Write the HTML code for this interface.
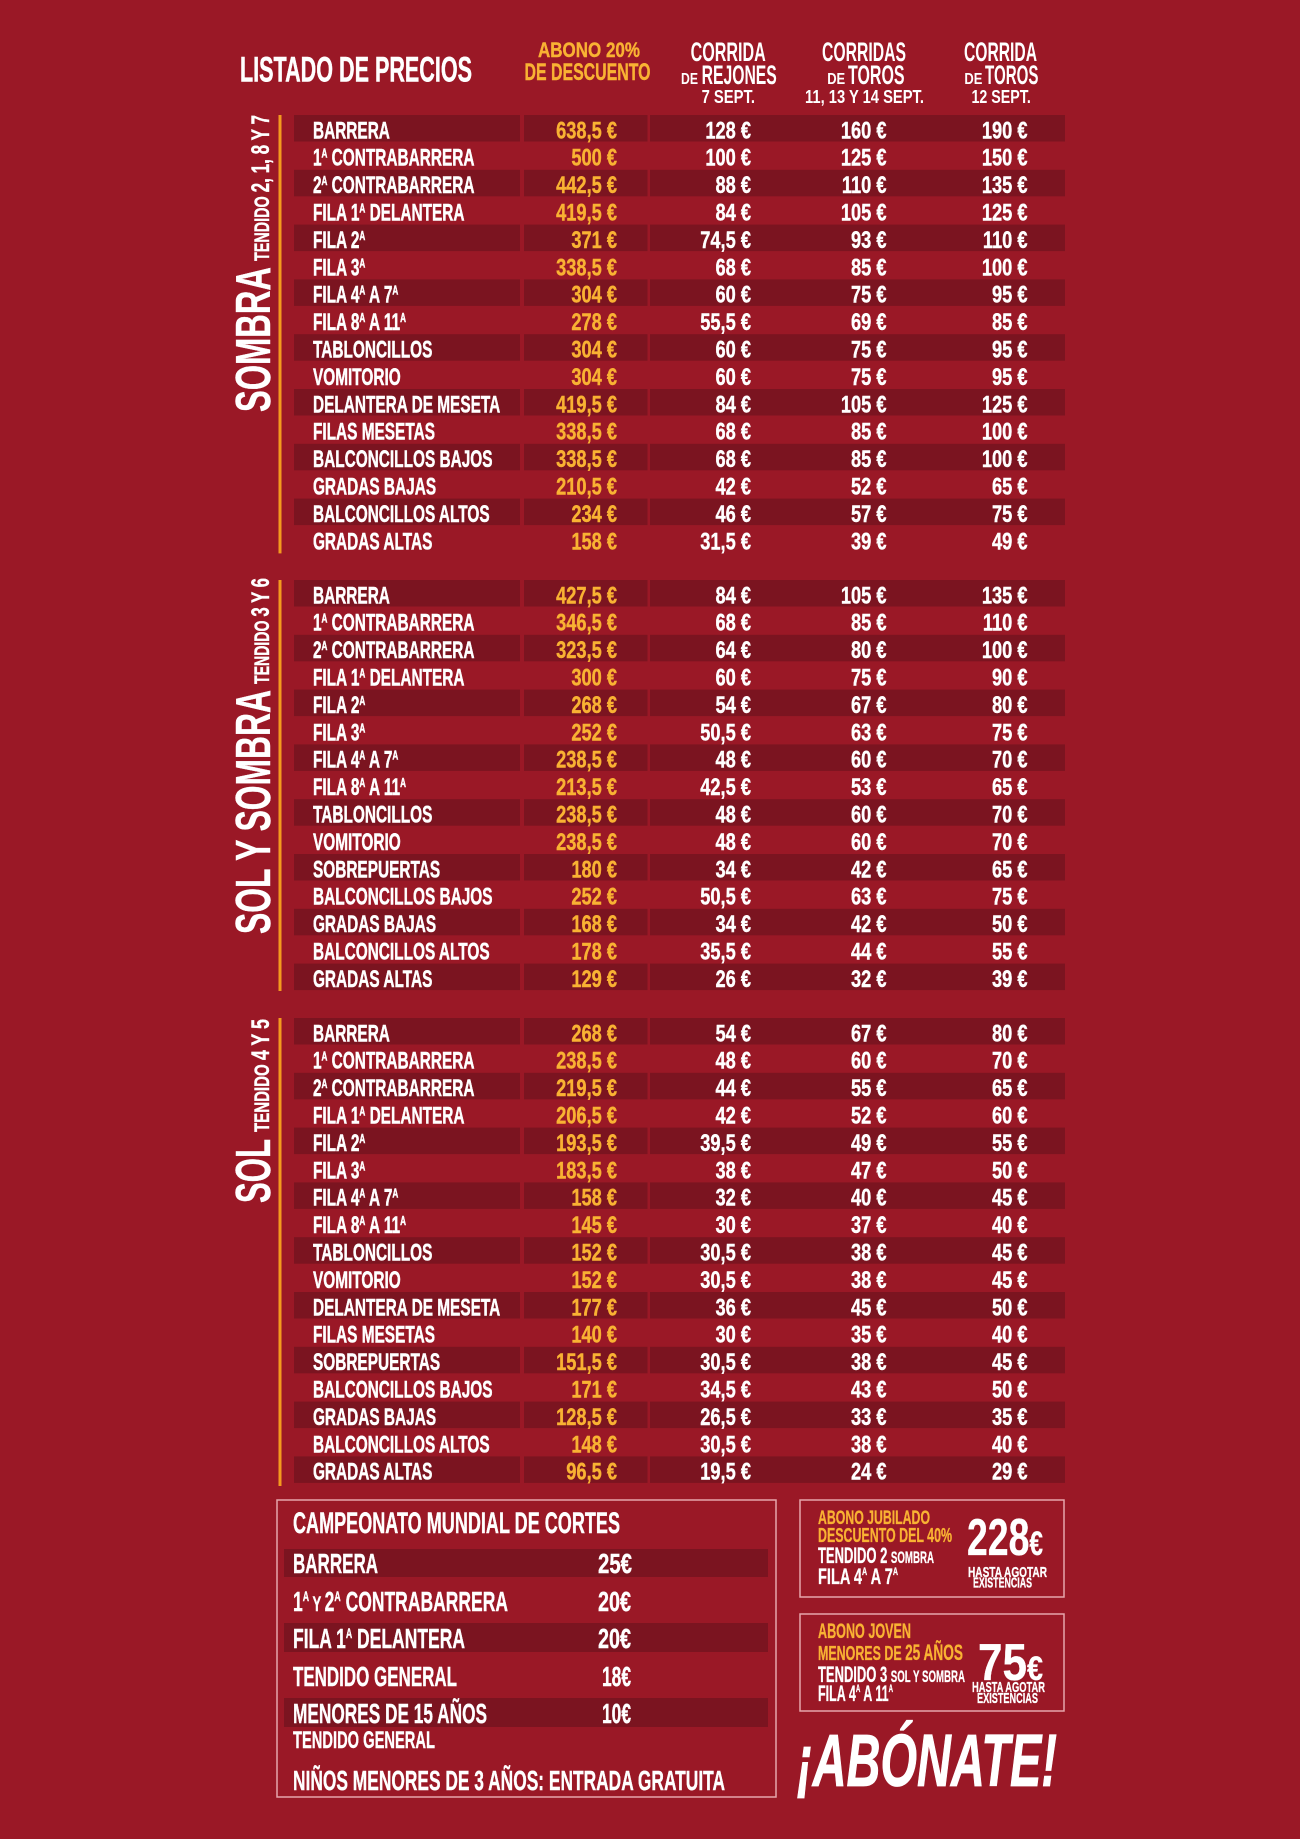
<!DOCTYPE html>
<html><head><meta charset="utf-8">
<style>
html,body{margin:0;padding:0;background:#9a1826;}
svg{display:block;}
text{font-family:"Liberation Sans",Arial,sans-serif;font-weight:bold;}
.s{font-size:12.5px;}
</style></head><body>
<svg xmlns="http://www.w3.org/2000/svg" width="1300" height="1839" viewBox="0 0 1300 1839">
<rect width="1300" height="1839" fill="#9a1826"/>

<!-- HEADER -->
<g fill="#fff">
<text x="240" y="81.7" font-size="35" textLength="232" lengthAdjust="spacingAndGlyphs" stroke="#fff" stroke-width="0.5">LISTADO DE PRECIOS</text>
<text x="538" y="57" font-size="21" textLength="102" lengthAdjust="spacingAndGlyphs" fill="#f9b233" stroke="#f9b233" stroke-width="0.4">ABONO 20%</text>
<text x="524.5" y="80" font-size="23.7" textLength="126" lengthAdjust="spacingAndGlyphs" fill="#f9b233" stroke="#f9b233" stroke-width="0.4">DE DESCUENTO</text>
<text x="690.6" y="61" font-size="26.5" textLength="75.2" lengthAdjust="spacingAndGlyphs">CORRIDA</text>
<text x="681" y="84" font-size="16" textLength="17" lengthAdjust="spacingAndGlyphs">DE</text>
<text x="701.6" y="84" font-size="26.5" textLength="75.2" lengthAdjust="spacingAndGlyphs">REJONES</text>
<text x="701.6" y="103" font-size="18" textLength="53.4" lengthAdjust="spacingAndGlyphs">7 SEPT.</text>
<text x="822" y="61" font-size="26.5" textLength="84" lengthAdjust="spacingAndGlyphs">CORRIDAS</text>
<text x="827.2" y="84" font-size="16" textLength="18" lengthAdjust="spacingAndGlyphs">DE</text>
<text x="848" y="84" font-size="26.5" textLength="56.6" lengthAdjust="spacingAndGlyphs">TOROS</text>
<text x="805" y="103" font-size="18" textLength="119" lengthAdjust="spacingAndGlyphs">11, 13 Y 14 SEPT.</text>
<text x="964" y="61" font-size="26.5" textLength="73" lengthAdjust="spacingAndGlyphs">CORRIDA</text>
<text x="964.4" y="84" font-size="16" textLength="18" lengthAdjust="spacingAndGlyphs">DE</text>
<text x="985" y="84" font-size="26.5" textLength="53.4" lengthAdjust="spacingAndGlyphs">TOROS</text>
<text x="971.5" y="103" font-size="18" textLength="59.3" lengthAdjust="spacingAndGlyphs">12 SEPT.</text>
</g>

<!-- DARK ROW BARS -->
<g fill="#7b1420">
<rect x="294" y="115" width="771" height="26.5"/>
<rect x="294" y="169.8" width="771" height="26.5"/>
<rect x="294" y="224.6" width="771" height="26.5"/>
<rect x="294" y="279.4" width="771" height="26.5"/>
<rect x="294" y="334.2" width="771" height="26.5"/>
<rect x="294" y="389" width="771" height="26.5"/>
<rect x="294" y="443.8" width="771" height="26.5"/>
<rect x="294" y="498.6" width="771" height="26.5"/>

<rect x="294" y="580" width="771" height="26.5"/>
<rect x="294" y="634.8" width="771" height="26.5"/>
<rect x="294" y="689.6" width="771" height="26.5"/>
<rect x="294" y="744.4" width="771" height="26.5"/>
<rect x="294" y="799.2" width="771" height="26.5"/>
<rect x="294" y="854" width="771" height="26.5"/>
<rect x="294" y="908.8" width="771" height="26.5"/>
<rect x="294" y="963.6" width="771" height="26.5"/>

<rect x="294" y="1018" width="771" height="26.5"/>
<rect x="294" y="1072.8" width="771" height="26.5"/>
<rect x="294" y="1127.6" width="771" height="26.5"/>
<rect x="294" y="1182.4" width="771" height="26.5"/>
<rect x="294" y="1237.2" width="771" height="26.5"/>
<rect x="294" y="1292" width="771" height="26.5"/>
<rect x="294" y="1346.8" width="771" height="26.5"/>
<rect x="294" y="1401.6" width="771" height="26.5"/>
<rect x="294" y="1456.4" width="771" height="26.5"/>
</g>
<g fill="#9a1826">
<rect x="520" y="110" width="4" height="1380"/>
<rect x="647.5" y="110" width="2.5" height="1380"/>
</g>

<!-- ORANGE SIDE LINES -->
<g fill="#f39a1e">
<rect x="278.5" y="115" width="3" height="438.4"/>
<rect x="278.5" y="580" width="3" height="411"/>
<rect x="278.5" y="1018" width="3" height="468"/>
</g>

<!-- VERTICAL SECTION LABELS -->
<g fill="#fff" stroke="#fff" stroke-width="0.4">
<text transform="translate(270 412) rotate(-90)" font-size="48.9" textLength="145" lengthAdjust="spacingAndGlyphs">SOMBRA</text>
<text transform="translate(269 261) rotate(-90)" textLength="146" lengthAdjust="spacingAndGlyphs"><tspan font-size="21">TENDIDO </tspan><tspan font-size="25">2, 1, 8 Y 7</tspan></text>
<text transform="translate(270 934) rotate(-90)" font-size="48.9" textLength="244" lengthAdjust="spacingAndGlyphs">SOL Y SOMBRA</text>
<text transform="translate(269 684) rotate(-90)" textLength="106" lengthAdjust="spacingAndGlyphs"><tspan font-size="21">TENDIDO </tspan><tspan font-size="25">3 Y 6</tspan></text>
<text transform="translate(270 1203) rotate(-90)" font-size="48.9" textLength="64" lengthAdjust="spacingAndGlyphs">SOL</text>
<text transform="translate(269 1132) rotate(-90)" textLength="113" lengthAdjust="spacingAndGlyphs"><tspan font-size="21">TENDIDO </tspan><tspan font-size="25">4 Y 5</tspan></text>
</g>

<!-- ROW LABELS -->
<g transform="scale(.65 1)" fill="#fff" stroke="#fff" stroke-width="0.5" font-size="23.7">
<text x="481.5" y="138.3">BARRERA</text>
<text x="481.5" y="165.7">1<tspan class="s" dy="-8">A</tspan><tspan dy="8"> CONTRABARRERA</tspan></text>
<text x="481.5" y="193.1">2<tspan class="s" dy="-8">A</tspan><tspan dy="8"> CONTRABARRERA</tspan></text>
<text x="481.5" y="220.5">FILA 1<tspan class="s" dy="-8">A</tspan><tspan dy="8"> DELANTERA</tspan></text>
<text x="481.5" y="247.9">FILA 2<tspan class="s" dy="-8">A</tspan></text>
<text x="481.5" y="275.3">FILA 3<tspan class="s" dy="-8">A</tspan></text>
<text x="481.5" y="302.7">FILA 4<tspan class="s" dy="-8">A</tspan><tspan dy="8"> A 7</tspan><tspan class="s" dy="-8">A</tspan></text>
<text x="481.5" y="330.1">FILA 8<tspan class="s" dy="-8">A</tspan><tspan dy="8"> A 11</tspan><tspan class="s" dy="-8">A</tspan></text>
<text x="481.5" y="357.5">TABLONCILLOS</text>
<text x="481.5" y="384.9">VOMITORIO</text>
<text x="481.5" y="412.3">DELANTERA DE MESETA</text>
<text x="481.5" y="439.7">FILAS MESETAS</text>
<text x="481.5" y="467.1">BALCONCILLOS BAJOS</text>
<text x="481.5" y="494.5">GRADAS BAJAS</text>
<text x="481.5" y="521.9">BALCONCILLOS ALTOS</text>
<text x="481.5" y="549.3">GRADAS ALTAS</text>

<text x="481.5" y="603.3">BARRERA</text>
<text x="481.5" y="630.7">1<tspan class="s" dy="-8">A</tspan><tspan dy="8"> CONTRABARRERA</tspan></text>
<text x="481.5" y="658.1">2<tspan class="s" dy="-8">A</tspan><tspan dy="8"> CONTRABARRERA</tspan></text>
<text x="481.5" y="685.5">FILA 1<tspan class="s" dy="-8">A</tspan><tspan dy="8"> DELANTERA</tspan></text>
<text x="481.5" y="712.9">FILA 2<tspan class="s" dy="-8">A</tspan></text>
<text x="481.5" y="740.3">FILA 3<tspan class="s" dy="-8">A</tspan></text>
<text x="481.5" y="767.7">FILA 4<tspan class="s" dy="-8">A</tspan><tspan dy="8"> A 7</tspan><tspan class="s" dy="-8">A</tspan></text>
<text x="481.5" y="795.1">FILA 8<tspan class="s" dy="-8">A</tspan><tspan dy="8"> A 11</tspan><tspan class="s" dy="-8">A</tspan></text>
<text x="481.5" y="822.5">TABLONCILLOS</text>
<text x="481.5" y="849.9">VOMITORIO</text>
<text x="481.5" y="877.3">SOBREPUERTAS</text>
<text x="481.5" y="904.7">BALCONCILLOS BAJOS</text>
<text x="481.5" y="932.1">GRADAS BAJAS</text>
<text x="481.5" y="959.5">BALCONCILLOS ALTOS</text>
<text x="481.5" y="986.9">GRADAS ALTAS</text>

<text x="481.5" y="1041.3">BARRERA</text>
<text x="481.5" y="1068.7">1<tspan class="s" dy="-8">A</tspan><tspan dy="8"> CONTRABARRERA</tspan></text>
<text x="481.5" y="1096.1">2<tspan class="s" dy="-8">A</tspan><tspan dy="8"> CONTRABARRERA</tspan></text>
<text x="481.5" y="1123.5">FILA 1<tspan class="s" dy="-8">A</tspan><tspan dy="8"> DELANTERA</tspan></text>
<text x="481.5" y="1150.9">FILA 2<tspan class="s" dy="-8">A</tspan></text>
<text x="481.5" y="1178.3">FILA 3<tspan class="s" dy="-8">A</tspan></text>
<text x="481.5" y="1205.7">FILA 4<tspan class="s" dy="-8">A</tspan><tspan dy="8"> A 7</tspan><tspan class="s" dy="-8">A</tspan></text>
<text x="481.5" y="1233.1">FILA 8<tspan class="s" dy="-8">A</tspan><tspan dy="8"> A 11</tspan><tspan class="s" dy="-8">A</tspan></text>
<text x="481.5" y="1260.5">TABLONCILLOS</text>
<text x="481.5" y="1287.9">VOMITORIO</text>
<text x="481.5" y="1315.3">DELANTERA DE MESETA</text>
<text x="481.5" y="1342.7">FILAS MESETAS</text>
<text x="481.5" y="1370.1">SOBREPUERTAS</text>
<text x="481.5" y="1397.5">BALCONCILLOS BAJOS</text>
<text x="481.5" y="1424.9">GRADAS BAJAS</text>
<text x="481.5" y="1452.3">BALCONCILLOS ALTOS</text>
<text x="481.5" y="1479.7">GRADAS ALTAS</text>
</g>

<!-- ABONO COLUMN -->
<g transform="scale(.77 1)" fill="#f9b233" stroke="#f9b233" stroke-width="0.4" font-size="23.7" text-anchor="end">
<text x="801.3" y="138.3">638,5 €</text>
<text x="801.3" y="165.7">500 €</text>
<text x="801.3" y="193.1">442,5 €</text>
<text x="801.3" y="220.5">419,5 €</text>
<text x="801.3" y="247.9">371 €</text>
<text x="801.3" y="275.3">338,5 €</text>
<text x="801.3" y="302.7">304 €</text>
<text x="801.3" y="330.1">278 €</text>
<text x="801.3" y="357.5">304 €</text>
<text x="801.3" y="384.9">304 €</text>
<text x="801.3" y="412.3">419,5 €</text>
<text x="801.3" y="439.7">338,5 €</text>
<text x="801.3" y="467.1">338,5 €</text>
<text x="801.3" y="494.5">210,5 €</text>
<text x="801.3" y="521.9">234 €</text>
<text x="801.3" y="549.3">158 €</text>

<text x="801.3" y="603.3">427,5 €</text>
<text x="801.3" y="630.7">346,5 €</text>
<text x="801.3" y="658.1">323,5 €</text>
<text x="801.3" y="685.5">300 €</text>
<text x="801.3" y="712.9">268 €</text>
<text x="801.3" y="740.3">252 €</text>
<text x="801.3" y="767.7">238,5 €</text>
<text x="801.3" y="795.1">213,5 €</text>
<text x="801.3" y="822.5">238,5 €</text>
<text x="801.3" y="849.9">238,5 €</text>
<text x="801.3" y="877.3">180 €</text>
<text x="801.3" y="904.7">252 €</text>
<text x="801.3" y="932.1">168 €</text>
<text x="801.3" y="959.5">178 €</text>
<text x="801.3" y="986.9">129 €</text>

<text x="801.3" y="1041.3">268 €</text>
<text x="801.3" y="1068.7">238,5 €</text>
<text x="801.3" y="1096.1">219,5 €</text>
<text x="801.3" y="1123.5">206,5 €</text>
<text x="801.3" y="1150.9">193,5 €</text>
<text x="801.3" y="1178.3">183,5 €</text>
<text x="801.3" y="1205.7">158 €</text>
<text x="801.3" y="1233.1">145 €</text>
<text x="801.3" y="1260.5">152 €</text>
<text x="801.3" y="1287.9">152 €</text>
<text x="801.3" y="1315.3">177 €</text>
<text x="801.3" y="1342.7">140 €</text>
<text x="801.3" y="1370.1">151,5 €</text>
<text x="801.3" y="1397.5">171 €</text>
<text x="801.3" y="1424.9">128,5 €</text>
<text x="801.3" y="1452.3">148 €</text>
<text x="801.3" y="1479.7">96,5 €</text>
</g>

<!-- OTHER PRICE COLUMNS -->
<g transform="scale(.77 1)" fill="#fff" stroke="#fff" stroke-width="0.4" font-size="23.7" text-anchor="end">
<text y="138.3"><tspan x="975.3">128 €</tspan><tspan x="1151.3">160 €</tspan><tspan x="1334.4">190 €</tspan></text>
<text y="165.7"><tspan x="975.3">100 €</tspan><tspan x="1151.3">125 €</tspan><tspan x="1334.4">150 €</tspan></text>
<text y="193.1"><tspan x="975.3">88 €</tspan><tspan x="1151.3">110 €</tspan><tspan x="1334.4">135 €</tspan></text>
<text y="220.5"><tspan x="975.3">84 €</tspan><tspan x="1151.3">105 €</tspan><tspan x="1334.4">125 €</tspan></text>
<text y="247.9"><tspan x="975.3">74,5 €</tspan><tspan x="1151.3">93 €</tspan><tspan x="1334.4">110 €</tspan></text>
<text y="275.3"><tspan x="975.3">68 €</tspan><tspan x="1151.3">85 €</tspan><tspan x="1334.4">100 €</tspan></text>
<text y="302.7"><tspan x="975.3">60 €</tspan><tspan x="1151.3">75 €</tspan><tspan x="1334.4">95 €</tspan></text>
<text y="330.1"><tspan x="975.3">55,5 €</tspan><tspan x="1151.3">69 €</tspan><tspan x="1334.4">85 €</tspan></text>
<text y="357.5"><tspan x="975.3">60 €</tspan><tspan x="1151.3">75 €</tspan><tspan x="1334.4">95 €</tspan></text>
<text y="384.9"><tspan x="975.3">60 €</tspan><tspan x="1151.3">75 €</tspan><tspan x="1334.4">95 €</tspan></text>
<text y="412.3"><tspan x="975.3">84 €</tspan><tspan x="1151.3">105 €</tspan><tspan x="1334.4">125 €</tspan></text>
<text y="439.7"><tspan x="975.3">68 €</tspan><tspan x="1151.3">85 €</tspan><tspan x="1334.4">100 €</tspan></text>
<text y="467.1"><tspan x="975.3">68 €</tspan><tspan x="1151.3">85 €</tspan><tspan x="1334.4">100 €</tspan></text>
<text y="494.5"><tspan x="975.3">42 €</tspan><tspan x="1151.3">52 €</tspan><tspan x="1334.4">65 €</tspan></text>
<text y="521.9"><tspan x="975.3">46 €</tspan><tspan x="1151.3">57 €</tspan><tspan x="1334.4">75 €</tspan></text>
<text y="549.3"><tspan x="975.3">31,5 €</tspan><tspan x="1151.3">39 €</tspan><tspan x="1334.4">49 €</tspan></text>

<text y="603.3"><tspan x="975.3">84 €</tspan><tspan x="1151.3">105 €</tspan><tspan x="1334.4">135 €</tspan></text>
<text y="630.7"><tspan x="975.3">68 €</tspan><tspan x="1151.3">85 €</tspan><tspan x="1334.4">110 €</tspan></text>
<text y="658.1"><tspan x="975.3">64 €</tspan><tspan x="1151.3">80 €</tspan><tspan x="1334.4">100 €</tspan></text>
<text y="685.5"><tspan x="975.3">60 €</tspan><tspan x="1151.3">75 €</tspan><tspan x="1334.4">90 €</tspan></text>
<text y="712.9"><tspan x="975.3">54 €</tspan><tspan x="1151.3">67 €</tspan><tspan x="1334.4">80 €</tspan></text>
<text y="740.3"><tspan x="975.3">50,5 €</tspan><tspan x="1151.3">63 €</tspan><tspan x="1334.4">75 €</tspan></text>
<text y="767.7"><tspan x="975.3">48 €</tspan><tspan x="1151.3">60 €</tspan><tspan x="1334.4">70 €</tspan></text>
<text y="795.1"><tspan x="975.3">42,5 €</tspan><tspan x="1151.3">53 €</tspan><tspan x="1334.4">65 €</tspan></text>
<text y="822.5"><tspan x="975.3">48 €</tspan><tspan x="1151.3">60 €</tspan><tspan x="1334.4">70 €</tspan></text>
<text y="849.9"><tspan x="975.3">48 €</tspan><tspan x="1151.3">60 €</tspan><tspan x="1334.4">70 €</tspan></text>
<text y="877.3"><tspan x="975.3">34 €</tspan><tspan x="1151.3">42 €</tspan><tspan x="1334.4">65 €</tspan></text>
<text y="904.7"><tspan x="975.3">50,5 €</tspan><tspan x="1151.3">63 €</tspan><tspan x="1334.4">75 €</tspan></text>
<text y="932.1"><tspan x="975.3">34 €</tspan><tspan x="1151.3">42 €</tspan><tspan x="1334.4">50 €</tspan></text>
<text y="959.5"><tspan x="975.3">35,5 €</tspan><tspan x="1151.3">44 €</tspan><tspan x="1334.4">55 €</tspan></text>
<text y="986.9"><tspan x="975.3">26 €</tspan><tspan x="1151.3">32 €</tspan><tspan x="1334.4">39 €</tspan></text>

<text y="1041.3"><tspan x="975.3">54 €</tspan><tspan x="1151.3">67 €</tspan><tspan x="1334.4">80 €</tspan></text>
<text y="1068.7"><tspan x="975.3">48 €</tspan><tspan x="1151.3">60 €</tspan><tspan x="1334.4">70 €</tspan></text>
<text y="1096.1"><tspan x="975.3">44 €</tspan><tspan x="1151.3">55 €</tspan><tspan x="1334.4">65 €</tspan></text>
<text y="1123.5"><tspan x="975.3">42 €</tspan><tspan x="1151.3">52 €</tspan><tspan x="1334.4">60 €</tspan></text>
<text y="1150.9"><tspan x="975.3">39,5 €</tspan><tspan x="1151.3">49 €</tspan><tspan x="1334.4">55 €</tspan></text>
<text y="1178.3"><tspan x="975.3">38 €</tspan><tspan x="1151.3">47 €</tspan><tspan x="1334.4">50 €</tspan></text>
<text y="1205.7"><tspan x="975.3">32 €</tspan><tspan x="1151.3">40 €</tspan><tspan x="1334.4">45 €</tspan></text>
<text y="1233.1"><tspan x="975.3">30 €</tspan><tspan x="1151.3">37 €</tspan><tspan x="1334.4">40 €</tspan></text>
<text y="1260.5"><tspan x="975.3">30,5 €</tspan><tspan x="1151.3">38 €</tspan><tspan x="1334.4">45 €</tspan></text>
<text y="1287.9"><tspan x="975.3">30,5 €</tspan><tspan x="1151.3">38 €</tspan><tspan x="1334.4">45 €</tspan></text>
<text y="1315.3"><tspan x="975.3">36 €</tspan><tspan x="1151.3">45 €</tspan><tspan x="1334.4">50 €</tspan></text>
<text y="1342.7"><tspan x="975.3">30 €</tspan><tspan x="1151.3">35 €</tspan><tspan x="1334.4">40 €</tspan></text>
<text y="1370.1"><tspan x="975.3">30,5 €</tspan><tspan x="1151.3">38 €</tspan><tspan x="1334.4">45 €</tspan></text>
<text y="1397.5"><tspan x="975.3">34,5 €</tspan><tspan x="1151.3">43 €</tspan><tspan x="1334.4">50 €</tspan></text>
<text y="1424.9"><tspan x="975.3">26,5 €</tspan><tspan x="1151.3">33 €</tspan><tspan x="1334.4">35 €</tspan></text>
<text y="1452.3"><tspan x="975.3">30,5 €</tspan><tspan x="1151.3">38 €</tspan><tspan x="1334.4">40 €</tspan></text>
<text y="1479.7"><tspan x="975.3">19,5 €</tspan><tspan x="1151.3">24 €</tspan><tspan x="1334.4">29 €</tspan></text>
</g>

<!-- CAMPEONATO BOX -->
<rect x="277" y="1500" width="499" height="297" fill="none" stroke="#e6a5ab" stroke-width="1.5"/>
<g fill="#7b1420">
<rect x="284" y="1549" width="484" height="28"/>
<rect x="284" y="1623" width="484" height="29"/>
<rect x="284" y="1698" width="484" height="29"/>
</g>
<g fill="#fff" stroke="#fff" stroke-width="0.4">
<text x="293" y="1533" font-size="29.3" textLength="327" lengthAdjust="spacingAndGlyphs">CAMPEONATO MUNDIAL DE CORTES</text>
<text x="293" y="1573" font-size="28" textLength="85" lengthAdjust="spacingAndGlyphs">BARRERA</text>
<text x="598" y="1573" font-size="28" textLength="34" lengthAdjust="spacingAndGlyphs">25€</text>
<text x="293" y="1611" font-size="28" textLength="215" lengthAdjust="spacingAndGlyphs">1<tspan font-size="14" dy="-10">A</tspan><tspan dy="10" font-size="21"> Y </tspan>2<tspan font-size="14" dy="-10">A</tspan><tspan dy="10"> CONTRABARRERA</tspan></text>
<text x="598" y="1611" font-size="28" textLength="33" lengthAdjust="spacingAndGlyphs">20€</text>
<text x="293" y="1648" font-size="28" textLength="172" lengthAdjust="spacingAndGlyphs">FILA 1<tspan font-size="14" dy="-10">A</tspan><tspan dy="10"> DELANTERA</tspan></text>
<text x="598" y="1648" font-size="28" textLength="33" lengthAdjust="spacingAndGlyphs">20€</text>
<text x="293" y="1686" font-size="28" textLength="164" lengthAdjust="spacingAndGlyphs">TENDIDO GENERAL</text>
<text x="602" y="1686" font-size="28" textLength="29" lengthAdjust="spacingAndGlyphs">18€</text>
<text x="293" y="1723" font-size="28" textLength="194" lengthAdjust="spacingAndGlyphs">MENORES DE 15 AÑOS</text>
<text x="602" y="1723" font-size="28" textLength="29" lengthAdjust="spacingAndGlyphs">10€</text>
<text x="293" y="1748" font-size="23.7" textLength="142" lengthAdjust="spacingAndGlyphs">TENDIDO GENERAL</text>
<text x="293" y="1790" font-size="28" textLength="432" lengthAdjust="spacingAndGlyphs">NIÑOS MENORES DE 3 AÑOS: ENTRADA GRATUITA</text>
</g>

<!-- ABONO JUBILADO BOX -->
<rect x="800" y="1500" width="264" height="97" fill="none" stroke="#e6a5ab" stroke-width="1.5"/>
<g fill="#f9b233" stroke="#f9b233" stroke-width="0.3">
<text x="818" y="1524" font-size="19.5" textLength="112" lengthAdjust="spacingAndGlyphs">ABONO JUBILADO</text>
<text x="818" y="1542" font-size="20.5" textLength="134" lengthAdjust="spacingAndGlyphs">DESCUENTO DEL 40%</text>
</g>
<g fill="#fff" stroke="#fff" stroke-width="0.3">
<text x="818" y="1563" textLength="116" lengthAdjust="spacingAndGlyphs"><tspan font-size="22.5">TENDIDO 2 </tspan><tspan font-size="16.8">SOMBRA</tspan></text>
<text x="818" y="1584" font-size="22.5" textLength="80" lengthAdjust="spacingAndGlyphs">FILA 4<tspan font-size="11" dy="-9">A</tspan><tspan dy="9"> A 7</tspan><tspan font-size="11" dy="-9">A</tspan></text>
<text x="967" y="1555" font-size="52" textLength="76" lengthAdjust="spacingAndGlyphs">228<tspan font-size="34">€</tspan></text>
<text x="968" y="1577" font-size="14.5" textLength="79" lengthAdjust="spacingAndGlyphs">HASTA AGOTAR</text>
<text x="973" y="1587.5" font-size="14.5" textLength="59" lengthAdjust="spacingAndGlyphs">EXISTENCIAS</text>
</g>

<!-- ABONO JOVEN BOX -->
<rect x="800" y="1614" width="264" height="97" fill="none" stroke="#e6a5ab" stroke-width="1.5"/>
<g fill="#f9b233" stroke="#f9b233" stroke-width="0.3">
<text x="818" y="1638" font-size="21" textLength="93" lengthAdjust="spacingAndGlyphs">ABONO JOVEN</text>
<text x="818" y="1660" textLength="145" lengthAdjust="spacingAndGlyphs"><tspan font-size="20.5">MENORES DE </tspan><tspan font-size="22.5">25 AÑOS</tspan></text>
</g>
<g fill="#fff" stroke="#fff" stroke-width="0.3">
<text x="818" y="1682" textLength="147" lengthAdjust="spacingAndGlyphs"><tspan font-size="22.5">TENDIDO 3 </tspan><tspan font-size="16.8">SOL Y SOMBRA</tspan></text>
<text x="818" y="1701" font-size="22.5" textLength="75" lengthAdjust="spacingAndGlyphs">FILA 4<tspan font-size="11" dy="-9">A</tspan><tspan dy="9"> A 11</tspan><tspan font-size="11" dy="-9">A</tspan></text>
<text x="978" y="1680" font-size="52" textLength="65" lengthAdjust="spacingAndGlyphs">75<tspan font-size="34">€</tspan></text>
<text x="972" y="1692" font-size="14.5" textLength="73" lengthAdjust="spacingAndGlyphs">HASTA AGOTAR</text>
<text x="977" y="1703" font-size="14.5" textLength="61" lengthAdjust="spacingAndGlyphs">EXISTENCIAS</text>
</g>

<!-- ¡ABÓNATE! -->
<text x="797" y="1786" font-size="74" font-style="italic" fill="#fff" stroke="#fff" stroke-width="0.8" textLength="260" lengthAdjust="spacingAndGlyphs">¡ABÓNATE!</text>
</svg>
</body></html>
